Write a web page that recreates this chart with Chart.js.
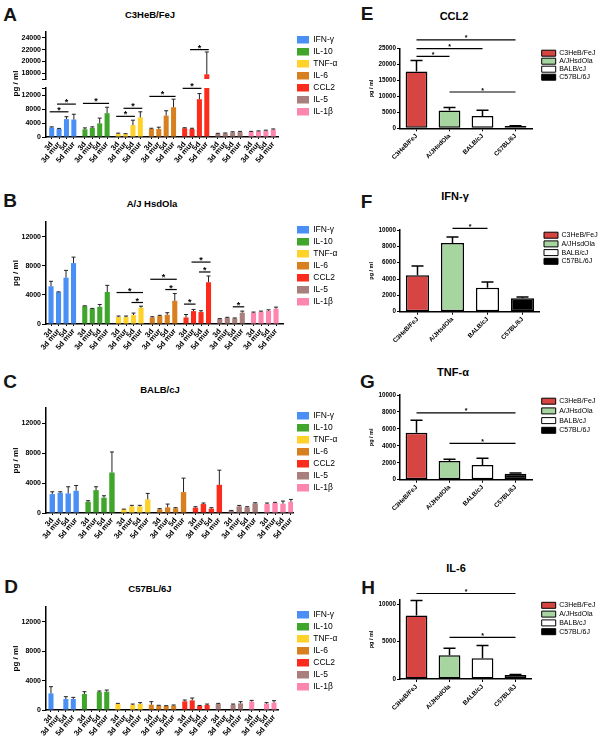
<!DOCTYPE html>
<html><head><meta charset="utf-8">
<script src="https://cdn.jsdelivr.net/npm/chart.js@4.4.1/dist/chart.umd.min.js"></script>
<style>
html,body{margin:0;padding:0;background:#fff;}
#fig{position:relative;width:600px;height:745px;overflow:hidden;background:#fff;font-family:'Liberation Sans',Arial,sans-serif;}
canvas{position:absolute;}
.lbl{position:absolute;transform:translate(-50%,-50%);font-weight:bold;white-space:nowrap;color:#000;line-height:1;}
.letter{font-size:19px;color:#151515;}
.tl{font-size:9.5px;}
.tr{font-size:11px;}
</style></head><body>
<div id="fig">
  <div class="lbl letter" style="left:10px;top:13.5px">A</div>
  <div class="lbl letter" style="left:10px;top:200px">B</div>
  <div class="lbl letter" style="left:10px;top:381px">C</div>
  <div class="lbl letter" style="left:11px;top:586px">D</div>
  <div class="lbl letter" style="left:367px;top:12.5px">E</div>
  <div class="lbl letter" style="left:366.5px;top:201px">F</div>
  <div class="lbl letter" style="left:367.5px;top:381px">G</div>
  <div class="lbl letter" style="left:368px;top:587px">H</div>
  <div class="lbl tl" style="left:150px;top:15px">C3HeB/FeJ</div>
  <div class="lbl tl" style="left:152px;top:204px">A/J HsdOla</div>
  <div class="lbl tl" style="left:160px;top:390px">BALB/cJ</div>
  <div class="lbl tl" style="left:150px;top:589px">C57BL/6J</div>
  <div class="lbl tr" style="left:454px;top:16px">CCL2</div>
  <div class="lbl tr" style="left:455px;top:196px">IFN-γ</div>
  <div class="lbl tr" style="left:453px;top:372px">TNF-α</div>
  <div class="lbl tr" style="left:456px;top:568px">IL-6</div>
  <canvas id="cA" width="350" height="185" style="left:0;top:0"></canvas>
  <canvas id="cB" width="350" height="185" style="left:0;top:180px"></canvas>
  <canvas id="cC" width="350" height="195" style="left:0;top:350px"></canvas>
  <canvas id="cD" width="350" height="205" style="left:0;top:540px"></canvas>
  <canvas id="cE" width="254" height="180" style="left:350px;top:0"></canvas>
  <canvas id="cF" width="254" height="190" style="left:350px;top:180px"></canvas>
  <canvas id="cG" width="254" height="180" style="left:350px;top:370px"></canvas>
  <canvas id="cH" width="254" height="195" style="left:350px;top:550px"></canvas>
</div>
<script>
// ---------- data ----------
const cytokines = ['IFN-γ','IL-10','TNF-α','IL-6','CCL2','IL-5','IL-1β'];
const timepoints = ['3d','3d mur','5d','5d mur'];
const cytokineColors = ['#4a8ff5','#3fa52b','#ffd22a','#d8801f','#fc2b1c','#a87f7c','#fe86ae'];
const strains = ['C3HeB/FeJ','A/JHsdOla','BALB/cJ','C57BL/6J'];
const strainColors = ['#d64541','#a6d5a0','#ffffff','#000000'];

// Panel A: C3HeB/FeJ (per cytokine: 3d, 3d mur, 5d, 5d mur)
const c3hebMean = [2700,2300,5100,5000, 2200,2600,3900,6800, 900,800,3400,5600, 2300,2300,6100,8500, 2500,2300,10800,17800, 900,1000,1300,1400, 1500,1600,1800,2100];
const c3hebSD   = [200,150,700,1500, 400,300,1500,1700, 200,150,1400,1600, 200,500,1400,2300, 150,200,1600,3800, 150,150,200,200, 100,150,150,200];
const c3hebSig  = [[0,2,7200],[1,3,9400],[4,7,9600],[8,10,5900],[9,11,8200],[12,15,11600],[16,18,13900],[17,19,22000]];

// Panel B: A/J HsdOla
const ajMean = [5180,4360,6360,8360, 2450,2090,2360,4400, 950,950,1230,2230, 900,1090,1270,3180, 900,1770,1640,5730, 680,860,770,1550, 1550,1680,1820,2090];
const ajSD   = [680,50,1000,820, 50,50,320,900, 140,140,270,220, 100,100,280,1000, 400,230,180,860, 60,60,60,220, 90,90,130,230];
const ajSig  = [[8,11,4320],[10,11,2950],[12,15,6140],[14,15,4730],[16,17,2730],[17,19,8500],[18,19,7140],[22,23,2360]];

// Panel C: BALB/cJ
const balbMean = [2520,2700,2610,2960, 1500,3050,2040,5400, 490,880,880,1810, 490,750,620,2790, 710,1190,580,3760, 310,880,750,1280, 1190,1330,1240,1500];
const balbSD   = [310,130,890,710, 140,450,260,2740, 30,140,140,800, 90,440,90,1860, 130,140,130,1950, 30,130,90,90, 140,90,350,310];

// Panel D: C57BL/6J (missing groups = null)
const b6Mean = [2260,null,1490,1490, 2170,null,2440,2490, 810,null,680,810, 720,590,540,590, 1180,1310,540,680, 810,null,720,900, 1130,null,860,1000];
const b6SD   = [910,null,320,230, 320,null,140,220, 90,null,130,190, 410,50,50,90, 180,320,80,130, 90,null,90,230, 180,null,140,270];

// Panels E-H: strain comparison
const ccl2Mean = [17800,5600,3840,720];  const ccl2SD = [3500,960,1860,100];
const ccl2Sig  = [[0,1,22600],[0,2,25000],[0,3,27800],[1,3,11400]];
const ifngMean = [4460,8410,2940,1640];  const ifngSD = [1140,730,700,160];
const ifngSig  = [[1,2,10200]];
const tnfMean  = [5530,2200,1730,710];   const tnfSD  = [1490,200,790,90];
const tnfSig   = [[0,3,7880],[1,3,4280]];
const il6Mean  = [8530,3170,2770,540];   const il6SD  = [2010,940,1740,60];
const il6Sig   = [[0,3,11470],[1,3,5580]];

// ---------- helpers ----------
Chart.defaults.font.family = "'Liberation Sans', Arial, sans-serif";
const FONT = "'Liberation Sans', Arial, sans-serif";

function valPix(chart, v){
  const lo = chart.scales.y, hi = chart.scales.yHigh;
  if (hi && v > lo.max) return hi.getPixelForValue(Math.max(v, hi.min));
  return lo.getPixelForValue(v);
}
function errPlugin(means, sds, color, width, cap){
  return {id:'errbars', afterDatasetsDraw(chart){
    const meta = chart.getDatasetMeta(0), ctx = chart.ctx;
    ctx.save(); ctx.strokeStyle = color; ctx.lineWidth = width;
    means.forEach((m,i)=>{
      const sd = sds[i];
      if (m == null || sd == null || !meta.data[i]) return;
      const x = meta.data[i].x, y0 = valPix(chart, m), y1 = valPix(chart, m + sd);
      ctx.beginPath(); ctx.moveTo(x, y0); ctx.lineTo(x, y1);
      ctx.moveTo(x - cap, y1); ctx.lineTo(x + cap, y1); ctx.stroke();
    });
    ctx.restore();
  }};
}
function sigPlugin(list, ext, width, size, dy){
  return {id:'sig', afterDraw(chart){
    const meta = chart.getDatasetMeta(0), ctx = chart.ctx;
    ctx.save(); ctx.strokeStyle = '#000'; ctx.fillStyle = '#000'; ctx.lineWidth = width;
    ctx.font = 'bold ' + size + 'px ' + FONT; ctx.textAlign = 'center'; ctx.textBaseline = 'alphabetic';
    list.forEach(([i,j,v])=>{
      const x1 = meta.data[i].x - ext, x2 = meta.data[j].x + ext, y = valPix(chart, v);
      ctx.beginPath(); ctx.moveTo(x1, y); ctx.lineTo(x2, y); ctx.stroke();
      ctx.fillText('*', (x1 + x2) / 2, y + dy);
    });
    ctx.restore();
  }};
}
// fixes the legend box width so that the plot area keeps its place
function legendWidthPlugin(w){
  return {id:'legendW', beforeLayout(chart){
    const lg = chart.legend;
    if (lg && !lg.__fixedW){
      const f = lg.fit;
      lg.fit = function(){ f.call(this); this.width = w; };
      lg.__fixedW = true;
    }
  }};
}
function gapScale(w){
  return {type:'linear', position:'right', display:true, ticks:{display:false}, grid:{display:false},
          border:{display:false}, afterFit: s => { s.width = w; }};
}
const blackGrid = {drawOnChartArea:false, color:'#000', lineWidth:1};

function makeLeft(p){
  const LOW_MAX = 14000, HIGH_MIN = 17000, HIGH_MAX = 25000;
  const xs = p.means.map((_,i)=> Math.floor(i/4)*4.5 + i%4);
  const barColors = p.means.map((_,i)=> cytokineColors[Math.floor(i/4)]);
  const common = {grouped:false, barPercentage:0.68, categoryPercentage:1, borderWidth:0, backgroundColor:barColors};
  const datasets = [Object.assign({
    yAxisID:'y',
    data: p.means.map((v,i)=>({x:xs[i], y: v == null ? null : Math.min(v, LOW_MAX)}))
  }, common)];
  if (p.broken) datasets.push(Object.assign({
    yAxisID:'yHigh',
    data: p.means.map((v,i)=>({x:xs[i], y: (v != null && v > HIGH_MIN) ? [HIGH_MIN, v] : null}))
  }, common));

  const tickFont = {size:7, weight:'bold'};
  const yTitle = {display:true, text:'pg / ml', color:'#000', font:{size:8, weight:'bold'}, padding:{top:11, bottom:0}};
  const scales = {
    x: {type:'linear', min:p.xMin, max:p.xMax, offset:false,
        afterBuildTicks: s => { s.ticks = xs.map(v => ({value:v})); },
        ticks:{autoSkip:false, minRotation:50, maxRotation:50, padding:1, color:'#000',
               font:{size:7.5, weight:'bold'}, callback:(v,i)=> timepoints[i % 4]},
        grid:Object.assign({tickLength:2, offset:false}, blackGrid),
        border:{color:'#000', width:1.5},
        afterFit: s => { s.height = p.xHeight; }},
    y: {position:'left', min:0, max:LOW_MAX,
        afterBuildTicks: s => { s.ticks = (p.broken ? [0,4000,8000,12000,14000] : [0,4000,8000,12000]).map(v => ({value:v})); },
        ticks:{autoSkip:false, color:'#000', font:tickFont, padding:1, callback: v => v === 14000 ? '' : String(v)},
        grid:Object.assign({tickLength:4}, blackGrid),
        border:{color:'#000', width:1.5},
        title: p.broken ? {display:false} : yTitle,
        afterFit: s => { s.width = 46; }}
  };
  if (p.broken){
    scales.y.stack = 'v'; scales.y.stackWeight = 49;
    scales.ySp = {type:'linear', position:'left', stack:'v', stackWeight:9, min:0, max:1,
                  ticks:{display:false}, grid:{display:false}, border:{display:false},
                  title:yTitle, afterFit: s => { s.width = 46; }};
    scales.yHigh = {type:'linear', position:'left', stack:'v', stackWeight:47, min:HIGH_MIN, max:HIGH_MAX,
                  afterBuildTicks: s => { s.ticks = [17000,18000,20000,22000,24000].map(v => ({value:v})); },
                  ticks:{autoSkip:false, color:'#000', font:tickFont, padding:1, callback: v => v === 17000 ? '' : String(v)},
                  grid:Object.assign({tickLength:4}, blackGrid),
                  border:{color:'#000', width:1.5},
                  afterFit: s => { s.width = 46; }};
  }
  scales.yGap = gapScale(p.gap);

  new Chart(document.getElementById(p.id), {
    type:'bar',
    data:{datasets},
    options:{
      responsive:false, animation:false, devicePixelRatio:1,
      layout:{padding:{left:0, right:11.5, top:p.padTop, bottom:0}},
      plugins:{
        tooltip:{enabled:false},
        legend:{position:'right', align:'start', fullSize:false, onClick:()=>{},
          labels:{boxWidth:12, boxHeight:7.5, padding:3.5, color:'#333', font:{size:8.5},
            generateLabels:()=> cytokines.map((c,i)=>({text:c, fillStyle:cytokineColors[i], strokeStyle:cytokineColors[i], lineWidth:0, hidden:false, index:i}))}}
      },
      scales
    },
    plugins:[legendWidthPlugin(45), errPlugin(p.means, p.sds, '#222', 1, 2), sigPlugin(p.sig || [], 2, 1.2, 9, 1)]
  });
}

function makeRight(p){
  const W = 254, LW = 60, canvasLeft = 350;
  const padR = W - (p.legendLeft - canvasLeft) - LW;
  const yTicks = [];
  for (let v = 0; v <= p.yMax; v += p.step) yTicks.push(v);
  new Chart(document.getElementById(p.id), {
    type:'bar',
    data:{labels:strains, datasets:[{data:p.means, backgroundColor:strainColors, borderColor:'#000', borderWidth:1.5,
           borderSkipped:false, barPercentage:0.66, categoryPercentage:1}]},
    options:{
      responsive:false, animation:false, devicePixelRatio:1,
      layout:{padding:{left:0, right:padR, top:p.padTop, bottom:0}},
      plugins:{
        tooltip:{enabled:false},
        legend:{position:'right', align:'start', fullSize:false, onClick:()=>{},
          labels:{boxWidth:14, boxHeight:6, padding:p.lp, color:'#222', font:{size:7},
            generateLabels:()=> strains.map((s,i)=>({text:s, fillStyle:strainColors[i], strokeStyle:'#000', lineWidth:1, hidden:false, index:i}))}}
      },
      scales:{
        x:{ticks:{minRotation:45, maxRotation:45, padding:1, color:'#000', font:{size:6.3, weight:'bold'}},
           grid:Object.assign({tickLength:3, offset:false}, blackGrid),
           border:{color:'#000', width:1.5},
           afterFit: s => { s.height = p.xHeight; }},
        y:{min:0, max:p.yMax,
           afterBuildTicks: s => { s.ticks = yTicks.map(v => ({value:v})); },
           ticks:{autoSkip:false, color:'#000', padding:1, font:{size:6.3, weight:'bold'}, callback: v => String(v)},
           grid:Object.assign({tickLength:3}, blackGrid),
           border:{color:'#000', width:1.5},
           title:{display:true, text:'pg / ml', color:'#000', font:{size:5.5, weight:'bold'}, padding:{top:17.7, bottom:0}},
           afterFit: s => { s.width = 50; }},
        yGap: gapScale(p.gap)
      }
    },
    plugins:[legendWidthPlugin(LW), errPlugin(p.means, p.sds, '#000', 1.5, 6), sigPlugin(p.sig, 0, 1.2, 7, 0.5)]
  });
}

makeLeft({id:'cA', means:c3hebMean, sds:c3hebSD, sig:c3hebSig, broken:true, padTop:32, xHeight:48, xMin:-0.77, xMax:30.64, gap:15.5});
makeLeft({id:'cB', means:ajMean, sds:ajSD, sig:ajSig, broken:false, padTop:42, xHeight:41, xMin:-0.67, xMax:30.93, gap:10.5});
makeLeft({id:'cC', means:balbMean, sds:balbSD, sig:[], broken:false, padTop:58, xHeight:32, xMin:-0.79, xMax:30.26, gap:0.5});
makeLeft({id:'cD', means:b6Mean, sds:b6SD, sig:[], broken:false, padTop:67, xHeight:35, xMin:-0.67, xMax:30.54, gap:15.5});

makeRight({id:'cE', means:ccl2Mean, sds:ccl2SD, sig:ccl2Sig, yMax:25000, step:5000, padTop:48.7, xHeight:51.7, legendLeft:540.7, gap:8.7, lp:1});
makeRight({id:'cF', means:ifngMean, sds:ifngSD, sig:ifngSig, yMax:10000, step:2000, padTop:50, xHeight:58.3, legendLeft:542.3, gap:2.3, lp:1.7});
makeRight({id:'cG', means:tnfMean, sds:tnfSD, sig:tnfSig, yMax:10000, step:2000, padTop:25, xHeight:70.3, legendLeft:539, gap:7, lp:2.7});
makeRight({id:'cH', means:il6Mean, sds:il6SD, sig:il6Sig, yMax:10600, step:5000, padTop:50, xHeight:66, legendLeft:539.9, gap:7.9, lp:1.8});
</script>
</body></html>
